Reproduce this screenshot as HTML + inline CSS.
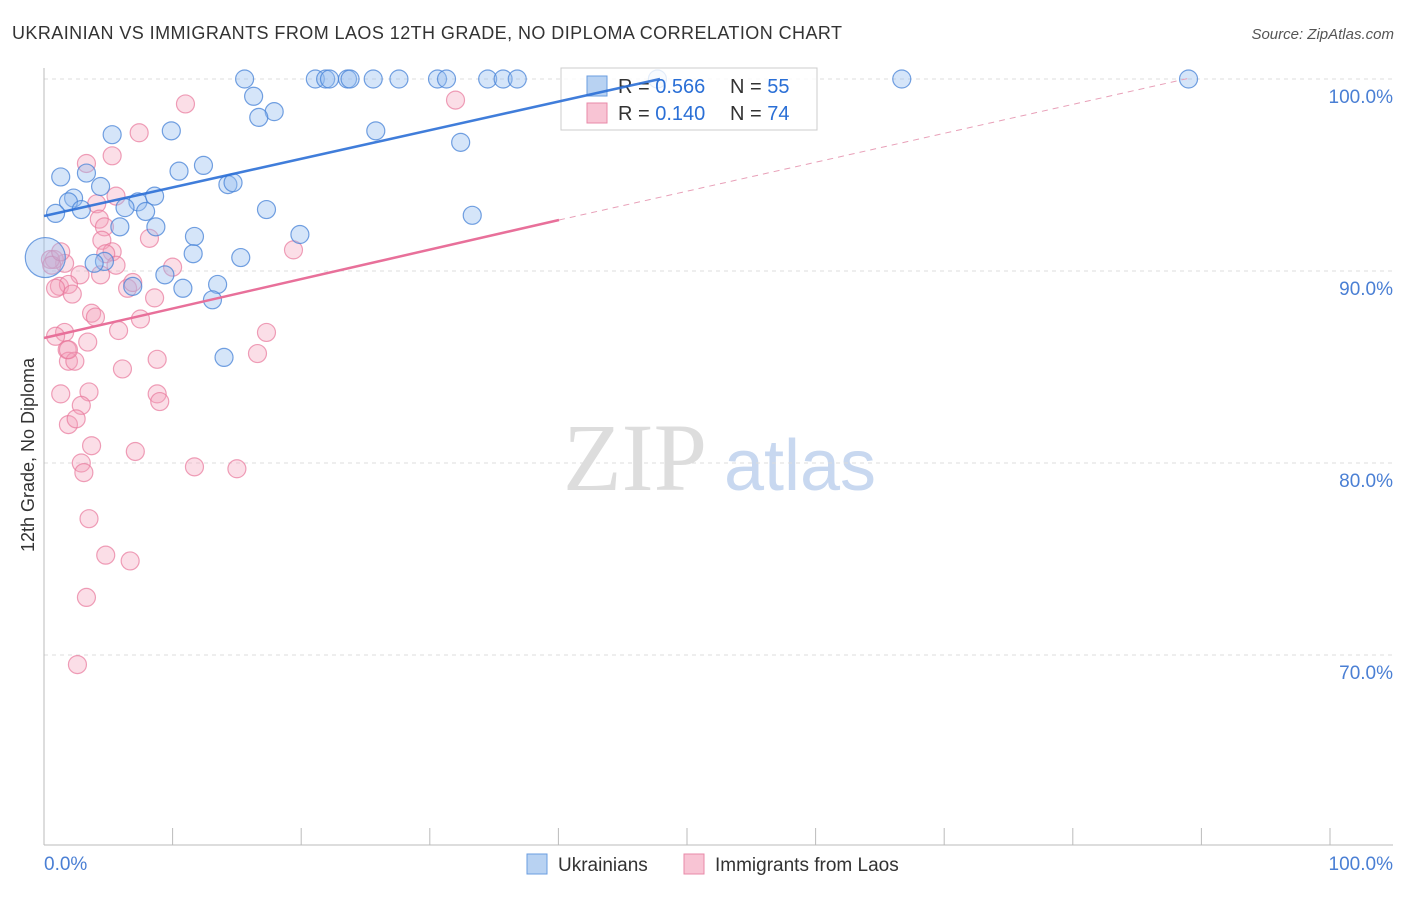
<!DOCTYPE html>
<html><head><meta charset="utf-8"><style>
body{margin:0;background:#fff;font-family:"Liberation Sans",sans-serif;}
</style></head><body>
<svg id="chart" width="1406" height="892" xmlns="http://www.w3.org/2000/svg">
<text x="12" y="39" font-size="18" fill="#333" textLength="830">UKRAINIAN VS IMMIGRANTS FROM LAOS 12TH GRADE, NO DIPLOMA CORRELATION CHART</text>
<text x="1394" y="39" font-size="15" fill="#555" font-style="italic" text-anchor="end">Source: ZipAtlas.com</text>
<text x="34" y="455" font-size="18" fill="#333" text-anchor="middle" transform="rotate(-90 34 455)">12th Grade, No Diploma</text>
<g id="watermark"><text x="635" y="490" font-size="96" fill="#ddd" font-family="Liberation Serif,serif" text-anchor="middle">ZIP</text><text x="800" y="490" font-size="72" fill="#c8d8f0" text-anchor="middle">atlas</text></g>
<g id="grid"></g><g id="axes"></g><g id="pts"></g>
<g>
<rect x="561" y="68" width="256" height="62" fill="#fff" fill-opacity="0.8" stroke="#ccc"/>
<rect x="587" y="76" width="20" height="20" fill="#b8d2f2" stroke="#6a9de0"/>
<rect x="587" y="103" width="20" height="20" fill="#f8c4d4" stroke="#e88aa8"/>
<text x="618" y="93" font-size="20" fill="#333">R = <tspan fill="#2a6fd6">0.566</tspan></text>
<text x="730" y="93" font-size="20" fill="#333">N = <tspan fill="#2a6fd6">55</tspan></text>
<text x="618" y="120" font-size="20" fill="#333">R = <tspan fill="#2a6fd6">0.140</tspan></text>
<text x="730" y="120" font-size="20" fill="#333">N = <tspan fill="#2a6fd6">74</tspan></text>
</g>
<g id="lines"></g>
<g>
<rect x="527" y="854" width="20" height="20" fill="#b8d2f2" stroke="#6a9de0"/>
<text x="558" y="871" font-size="19" fill="#333">Ukrainians</text>
<rect x="684" y="854" width="20" height="20" fill="#f8c4d4" stroke="#e88aa8"/>
<text x="715" y="871" font-size="19" fill="#333">Immigrants from Laos</text>
</g>
</svg>
<script>
const yTicks=[100,90,80,70];
const yTickLabels=["100.0%","90.0%","80.0%","70.0%"];
const blueX=[15.6,21.1,21.9,22.2,23.6,23.8,25.6,27.6,30.6,31.3,34.5,35.7,36.8,47.7,66.7,89,16.3,17.9,16.7,25.8,5.3,9.9,32.4,12.4,10.5,1.3,3.3,14.3,14.7,4.4,8.6,2.3,1.9,7.3,0.9,2.9,7.9,6.3,17.3,33.3,5.9,8.7,11.7,19.9,11.6,15.3,4.7,3.9,9.4,13.5,10.8,6.9,13.1,14,0.1];
const blueY=[100,100,100,100,100,100,100,100,100,100,100,100,100,100,100,100,99.1,98.3,98,97.3,97.1,97.3,96.7,95.5,95.2,94.9,95.1,94.5,94.6,94.4,93.9,93.8,93.6,93.6,93,93.2,93.1,93.3,93.2,92.9,92.3,92.3,91.8,91.9,90.9,90.7,90.5,90.4,89.8,89.3,89.1,89.2,88.5,85.5,90.7];
const blueR=[9,9,9,9,9,9,9,9,9,9,9,9,9,9,9,9,9,9,9,9,9,9,9,9,9,9,9,9,9,9,9,9,9,9,9,9,9,9,9,9,9,9,9,9,9,9,9,9,9,9,9,9,9,9,20];
const pinkX=[11,32,7.4,3.3,5.3,5.6,4.1,4.3,4.7,4.5,8.2,5.3,4.8,5.6,10,4.4,2.8,1.6,0.8,0.5,0.6,1.2,1.9,2.2,0.9,6.5,6.9,8.6,3.7,4,7.5,5.8,1.6,0.9,3.4,1.8,1.9,2.4,6.1,8.8,17.3,16.6,19.4,8.8,9,1.3,3.5,2.9,1.9,2.5,3.7,7.1,2.9,3.1,11.7,15,3.5,4.8,6.7,3.3,2.6,1.9,1.3];
const pinkY=[98.7,98.9,97.2,95.6,96,93.9,93.5,92.7,92.3,91.6,91.7,91,90.9,90.3,90.2,89.8,89.8,90.4,90.6,90.6,90.3,89.2,89.3,88.8,89.1,89.1,89.4,88.6,87.8,87.6,87.5,86.9,86.8,86.6,86.3,85.9,85.3,85.3,84.9,85.4,86.8,85.7,91.1,83.6,83.2,83.6,83.7,83,82,82.3,80.9,80.6,80,79.5,79.8,79.7,77.1,75.2,74.9,73,69.5,85.9,91];
const X=v=>44+v*12.86, Y=v=>79+(100-v)*19.2;
const NS="http://www.w3.org/2000/svg";
function mk(p,t,a){const e=document.createElementNS(NS,t);for(const k in a)e.setAttribute(k,a[k]);document.getElementById(p).appendChild(e);return e;}
yTicks.forEach((t,i)=>{
 const g=mk('grid','line',{x1:44,x2:1393,y1:Y(t),y2:Y(t),stroke:'#ddd','stroke-dasharray':'4,4'});
 
 
 const l=mk('axes','text',{x:1393,y:Y(t)+24,'font-size':19,fill:'#4a7fd4','text-anchor':'end'});l.textContent=yTickLabels[i];
 
 
});
mk('axes','line',{x1:44,x2:44,y1:68,y2:845,stroke:'#bbb'});
mk('axes','line',{x1:44,x2:1393,y1:845,y2:845,stroke:'#bbb'});
for(let i=0;i<=10;i++){const t=mk('axes','line',{x1:X(i*10),x2:X(i*10),y1:828,y2:845,stroke:'#bbb'});
 
 }
const a=mk('axes','text',{x:44,y:870,'font-size':19,fill:'#4a7fd4'});a.textContent='0.0%';

const b=mk('axes','text',{x:1393,y:870,'font-size':19,fill:'#4a7fd4','text-anchor':'end'});b.textContent='100.0%';

pinkX.forEach((x,i)=>{const c=mk('pts','circle',{cx:X(x),cy:Y(pinkY[i]),r:9,fill:'rgba(244,160,185,0.35)',stroke:'rgba(232,120,155,0.7)','stroke-width':1.2});
 
 });
blueX.forEach((x,i)=>{const c=mk('pts','circle',{cx:X(x),cy:Y(blueY[i]),r:blueR[i],fill:'rgba(150,190,240,0.4)',stroke:'rgba(70,130,215,0.75)','stroke-width':1.2});
 
 });
const bl=mk('lines','line',{x1:X(0),y1:216,x2:660,y2:79,stroke:'#2b6fd6','stroke-width':2.5,'stroke-opacity':0.9});

const pl=mk('lines','line',{x1:X(0),y1:338,x2:559,y2:220,stroke:'#e8709a','stroke-width':2.5});

const pd=mk('lines','line',{x1:559,y1:220,x2:1190,y2:78,stroke:'#e8a0b8','stroke-width':1,'stroke-dasharray':'6,5'});

</script>
</body></html>
